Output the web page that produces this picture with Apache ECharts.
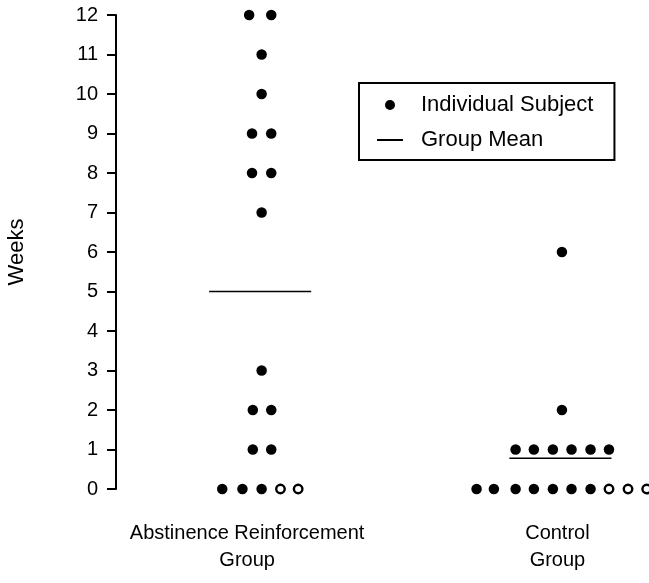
<!DOCTYPE html>
<html>
<head>
<meta charset="utf-8">
<script src="https://cdn.jsdelivr.net/npm/echarts@6/dist/echarts.min.js"></script>
<style>html,body{margin:0;padding:0;background:#fff;}#c{width:649px;height:583px;}</style>
</head>
<body>
<div id="c"></div>
<script>
// ---- data ----
const categories = ['Abstinence Reinforcement\nGroup', 'Control\nGroup'];
const yTicks = [0, 1, 2, 3, 4, 5, 6, 7, 8, 9, 10, 11, 12];
// weeks of abstinence per subject
const abstinenceWeeks = [12, 12, 11, 10, 9, 9, 8, 8, 7, 3, 2, 2, 1, 1, 0, 0, 0, 0, 0];
// horizontal slot (dot-width units) of each subject within its row
const abstinenceSlots = [-0.65, 0.5, 0, 0, -0.5, 0.5, -0.5, 0.5, 0, 0, -0.46, 0.5, -0.46, 0.5, -2.05, -1, 0, 0.98, 1.9];
// open circle flag
const abstinenceOpen = [0, 0, 0, 0, 0, 0, 0, 0, 0, 0, 0, 0, 0, 0, 0, 0, 0, 1, 1];

const controlWeeks = [6, 2, 1, 1, 1, 1, 1, 1, 0, 0, 0, 0, 0, 0, 0, 0, 0, 0];
const controlSlots = [0, 0, -2.41, -1.46, -0.47, 0.5, 1.49, 2.45, -4.44, -3.54, -2.41, -1.46, -0.47, 0.5, 1.49, 2.45, 3.44, 4.41];
const controlOpen = [0, 0, 0, 0, 0, 0, 0, 0, 0, 0, 0, 0, 0, 0, 0, 1, 1, 1];

// ---- build ----
const SLOT = 0.064;         // one dot width in x-axis units
const MEAN_SPAN = [-0.175, 0.165];
const groups = [
  { pos: 1, weeks: abstinenceWeeks, slots: abstinenceSlots, open: abstinenceOpen },
  { pos: 2, weeks: controlWeeks, slots: controlSlots, open: controlOpen }
];
const filled = [], hollow = [], meanSeries = [];
groups.forEach(function (g) {
  g.weeks.forEach(function (w, i) {
    const pt = [g.pos + g.slots[i] * SLOT, w];
    (g.open[i] ? hollow : filled).push(pt);
  });
  const mean = g.weeks.reduce(function (a, b) { return a + b; }, 0) / g.weeks.length;
  meanSeries.push({
    name: 'Group Mean', type: 'line', symbol: 'none', silent: true,
    color: '#000',
    itemStyle: { color: '#000' },
    lineStyle: { color: '#000', width: 1.6 },
    data: [[g.pos + MEAN_SPAN[0], mean], [g.pos + MEAN_SPAN[1], mean]]
  });
});

const FONT = 'Liberation Sans';
const chart = echarts.init(document.getElementById('c'), null, { renderer: 'canvas' });
chart.setOption({
  animation: false,
  backgroundColor: '#fff',
  grid: { left: 116, right: 0, top: 15, bottom: 94, containLabel: false, outerBoundsMode: 'none' },
  legend: {
    orient: 'vertical', left: 359, top: 83,
    padding: [10, 21, 8, 18],
    itemGap: 11, itemWidth: 26, itemHeight: 10,
    borderColor: '#000', borderWidth: 2,
    data: [
      { name: 'Individual Subject', icon: 'circle', itemStyle: { color: '#000' } },
      { name: 'Group Mean', icon: 'path://M0,0H26V2H0Z', itemStyle: { color: '#000' } }
    ],
    textStyle: { fontFamily: FONT, fontSize: 22, lineHeight: 24, color: '#000', padding: [0, 0, 0, 13] },
    selectedMode: false
  },
  xAxis: {
    type: 'value', min: 0.515, max: 2.29,
    axisLine: { show: false }, axisTick: { show: false }, splitLine: { show: false },
    axisLabel: {
      customValues: [1, 2],
      margin: 31,
      formatter: function (v) {
        const idx = Math.round(v) - 1;
        const key = idx === 0 ? 'a' : 'b';
        return categories[idx].split('\n').map(function (s) { return '{' + key + '|' + s + '}'; }).join('\n');
      },
      rich: {
        a: { fontFamily: FONT, fontSize: 20, color: '#000', lineHeight: 27, padding: [0, 29, 0, 0], align: 'center' },
        b: { fontFamily: FONT, fontSize: 20, color: '#000', lineHeight: 27, padding: [0, 9, 0, 0], align: 'center' }
      }
    }
  },
  yAxis: {
    type: 'value', min: 0, max: 12, interval: 1,
    name: 'Weeks', nameLocation: 'middle', nameGap: 88, nameRotate: 90,
    nameTextStyle: { fontFamily: FONT, fontSize: 22, color: '#000' },
    axisLine: { show: true, lineStyle: { color: '#000', width: 2 } },
    axisTick: { show: true, length: 9, lineStyle: { color: '#000', width: 2 } },
    splitLine: { show: false },
    axisLabel: {
      fontFamily: FONT, fontSize: 20, color: '#000', margin: 18,
      formatter: function (v) { return yTicks.indexOf(v) >= 0 ? String(v) : ''; }
    }
  },
  series: [
    {
      name: 'Individual Subject', type: 'scatter', symbol: 'circle', symbolSize: 10.5,
      itemStyle: { color: '#000', opacity: 1 }, clip: false,
      data: filled
    },
    {
      name: 'Dropped', type: 'scatter', symbol: 'circle', symbolSize: 8.5,
      itemStyle: { color: '#fff', borderColor: '#000', borderWidth: 2.4, opacity: 1 }, clip: false,
      data: hollow
    }
  ].concat(meanSeries)
});
</script>
</body>
</html>
